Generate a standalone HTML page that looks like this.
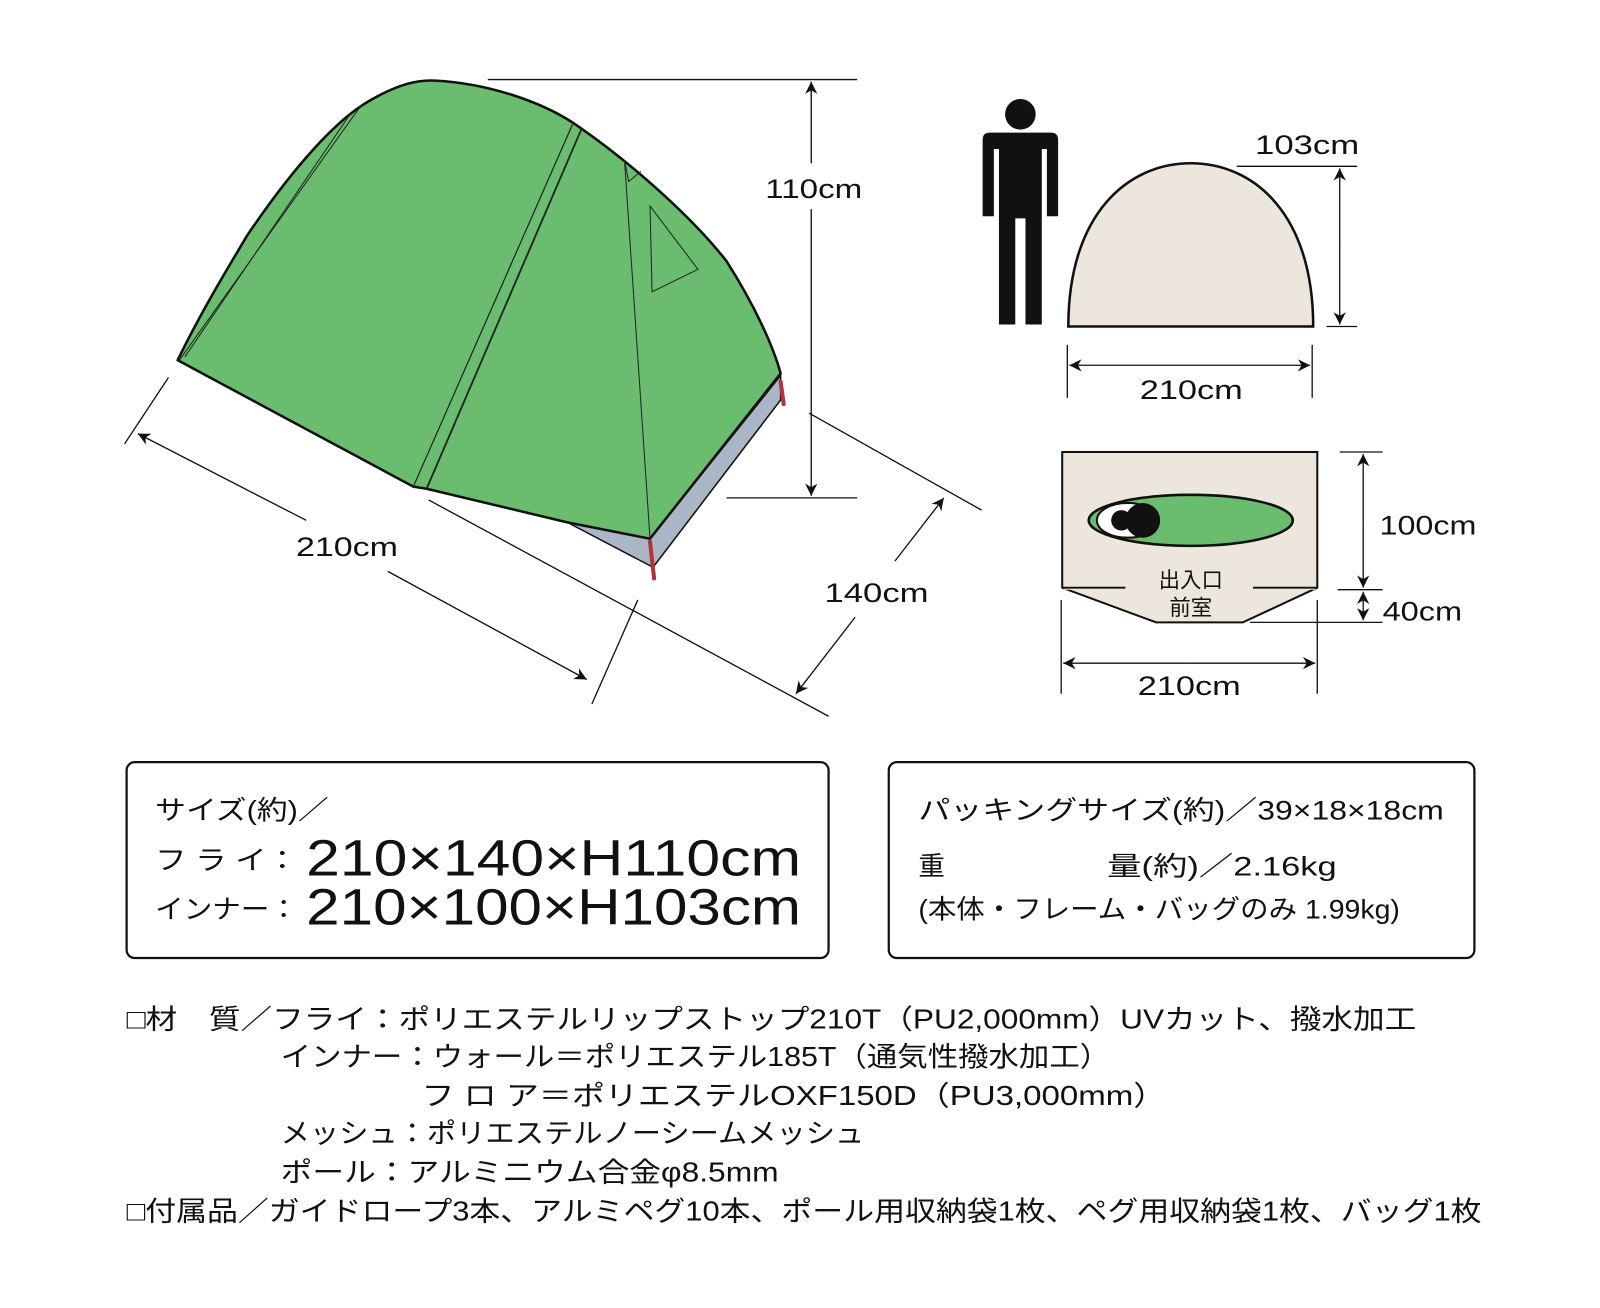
<!DOCTYPE html>
<html><head><meta charset="utf-8"><style>
html,body{margin:0;padding:0;background:#fff}
svg{display:block}
text{font-family:"Liberation Sans","Noto Sans CJK JP",sans-serif;fill:#111}
</style></head><body>
<svg width="1600" height="1308" viewBox="0 0 1568 1282" xmlns="http://www.w3.org/2000/svg">
<defs>
<marker id="ah" viewBox="0 0 10 10" refX="10" refY="5" markerWidth="12" markerHeight="12" orient="auto-start-reverse" markerUnits="userSpaceOnUse">
<path d="M0,0 L10,5 L0,10 L3,5 Z" fill="#111"/></marker>
</defs>
<!-- tent floor -->
<polygon points="556,512 640,556 765,392 765,368 637,528" fill="#aab6c6" stroke="#111" stroke-width="1.5"/>
<!-- tent body -->
<path d="M174,353 C200,300 225,260 242,231 C290,160 330,118 360,100 C390,82 410,78 427,79 C480,82 530,100 561,120 C620,160 680,215 712,256 C740,300 758,340 765,366 L637,528 L556,512 L418,479 L405,477 Z" fill="#6abd6e" stroke="#111" stroke-width="2.5" stroke-linejoin="round"/>
<line x1="354" y1="103" x2="175" y2="354" stroke="#222" stroke-width="1"/>
<line x1="343" y1="112" x2="181" y2="350" stroke="#222" stroke-width="1"/>
<line x1="561" y1="122" x2="405" y2="477" stroke="#222" stroke-width="1.2"/>
<line x1="570" y1="126" x2="418" y2="479" stroke="#222" stroke-width="1.8"/>
<line x1="612" y1="157" x2="637" y2="528" stroke="#222" stroke-width="1"/>
<polygon points="637,202 684,264 639,286" fill="none" stroke="#222" stroke-width="1"/>
<polyline points="612,157 616,178 628,168" fill="none" stroke="#222" stroke-width="1"/>
<line x1="637" y1="531" x2="641" y2="567" stroke="#b0333f" stroke-width="4" stroke-linecap="round"/>
<line x1="765" y1="374" x2="768" y2="396" stroke="#b0333f" stroke-width="4" stroke-linecap="round"/>
<!-- 110 dim -->
<g stroke="#111" stroke-width="1.3" fill="none">
<line x1="478" y1="78" x2="840" y2="78"/>
<line x1="712" y1="488" x2="840" y2="488"/>
<line x1="795" y1="160" x2="795" y2="80" marker-end="url(#ah)"/>
<line x1="795" y1="205" x2="795" y2="486" marker-end="url(#ah)"/>
<!-- 210 dim -->
<line x1="165" y1="370" x2="122" y2="435"/>
<line x1="625" y1="588" x2="580" y2="690"/>
<line x1="300" y1="510" x2="135" y2="425" marker-end="url(#ah)"/>
<line x1="380" y1="560" x2="575" y2="666" marker-end="url(#ah)"/>
<!-- 140 dim -->
<line x1="793" y1="405" x2="962" y2="500"/>
<line x1="420" y1="490" x2="812" y2="702"/>
<line x1="877" y1="550" x2="925" y2="488" marker-end="url(#ah)"/>
<line x1="838" y1="605" x2="780" y2="680" marker-end="url(#ah)"/>
</g>
<text x="750" y="194" font-size="26" textLength="95" lengthAdjust="spacingAndGlyphs">110cm</text>
<text x="290" y="545" font-size="26" textLength="100" lengthAdjust="spacingAndGlyphs">210cm</text>
<text x="808" y="590" font-size="26" textLength="102" lengthAdjust="spacingAndGlyphs">140cm</text>
<!-- person -->
<g fill="#111">
<circle cx="1000" cy="112" r="15"/>
<path d="M970,130 L1030,130 Q1037,130 1037,137 L1037,212 L1026,212 L1026,146 L1021,146 L1021,318 L1005,318 L1005,214 L995,214 L995,318 L979,318 L979,146 L974,146 L974,212 L963,212 L963,137 Q963,130 970,130 Z"/>
</g>
<!-- dome -->
<path d="M1047,320 C1047,210 1105,160 1167,160 C1229,160 1287,210 1287,320 Z" fill="#ece6dc" stroke="#111" stroke-width="2.5"/>
<g stroke="#111" stroke-width="1.3" fill="none">
<line x1="1212" y1="163" x2="1330" y2="163"/>
<line x1="1300" y1="320" x2="1330" y2="320"/>
<line x1="1313" y1="240" x2="1313" y2="165" marker-end="url(#ah)"/>
<line x1="1313" y1="240" x2="1313" y2="318" marker-end="url(#ah)"/>
<line x1="1046" y1="338" x2="1046" y2="390"/>
<line x1="1286" y1="338" x2="1286" y2="390"/>
<line x1="1166" y1="358" x2="1048" y2="358" marker-end="url(#ah)"/>
<line x1="1166" y1="358" x2="1284" y2="358" marker-end="url(#ah)"/>
</g>
<text x="1230" y="151" font-size="26" textLength="102" lengthAdjust="spacingAndGlyphs">103cm</text>
<text x="1117" y="391" font-size="26" textLength="101" lengthAdjust="spacingAndGlyphs">210cm</text>
<!-- floor plan -->
<path d="M1041,443 L1291,443 L1291,576 L1218,610 L1133,610 L1041,576 Z" fill="#ece6dc" stroke="#111" stroke-width="2"/>
<rect x="1043" y="575" width="246" height="3" fill="#ece6dc"/>
<line x1="1041" y1="576" x2="1103" y2="576" stroke="#111" stroke-width="1.8"/>
<line x1="1228" y1="576" x2="1291" y2="576" stroke="#111" stroke-width="1.8"/>
<ellipse cx="1167" cy="510" rx="100" ry="25" fill="#6abd6e" stroke="#111" stroke-width="2.5"/>
<ellipse cx="1105" cy="510" rx="30" ry="17" fill="#fff" stroke="#111" stroke-width="2"/>
<circle cx="1120" cy="510" r="17" fill="#111"/>
<circle cx="1099" cy="510" r="10" fill="#111"/>
<text x="1167" y="576" font-size="21" text-anchor="middle">出入口</text>
<text x="1167" y="603" font-size="21" text-anchor="middle">前室</text>
<g stroke="#111" stroke-width="1.3" fill="none">
<line x1="1313" y1="443" x2="1355" y2="443"/>
<line x1="1311" y1="578" x2="1355" y2="578"/>
<line x1="1225" y1="610" x2="1355" y2="610"/>
<line x1="1336" y1="510" x2="1336" y2="445" marker-end="url(#ah)"/>
<line x1="1336" y1="510" x2="1336" y2="576" marker-end="url(#ah)"/>
<line x1="1336" y1="594" x2="1336" y2="580" marker-end="url(#ah)"/>
<line x1="1336" y1="594" x2="1336" y2="608" marker-end="url(#ah)"/>
<line x1="1040" y1="588" x2="1040" y2="680"/>
<line x1="1291" y1="588" x2="1291" y2="680"/>
<line x1="1165" y1="650" x2="1042" y2="650" marker-end="url(#ah)"/>
<line x1="1165" y1="650" x2="1289" y2="650" marker-end="url(#ah)"/>
</g>
<text x="1352" y="524" font-size="26" textLength="95" lengthAdjust="spacingAndGlyphs">100cm</text>
<text x="1355" y="608" font-size="26" textLength="78" lengthAdjust="spacingAndGlyphs">40cm</text>
<text x="1115" y="681" font-size="26" textLength="101" lengthAdjust="spacingAndGlyphs">210cm</text>
<!-- boxes -->
<rect x="124" y="747" width="688" height="192" rx="8" fill="none" stroke="#111" stroke-width="2.2"/>
<rect x="871" y="747" width="574" height="192" rx="8" fill="none" stroke="#111" stroke-width="2.2"/>
<text x="152" y="803" font-size="26" textLength="170" lengthAdjust="spacingAndGlyphs">サイズ(約)／</text>
<text x="152" y="852" font-size="26" textLength="140" lengthAdjust="spacingAndGlyphs">フ ラ イ：</text>
<text x="300" y="858" font-size="50" textLength="485" lengthAdjust="spacingAndGlyphs">210×140×H110cm</text>
<text x="152" y="900" font-size="26" textLength="140" lengthAdjust="spacingAndGlyphs">インナー：</text>
<text x="300" y="906" font-size="50" textLength="485" lengthAdjust="spacingAndGlyphs">210×100×H103cm</text>
<text x="900" y="803" font-size="26" textLength="515" lengthAdjust="spacingAndGlyphs">パッキングサイズ(約)／39×18×18cm</text>
<text x="900" y="858" font-size="26">重</text>
<text x="1085" y="858" font-size="26" textLength="225" lengthAdjust="spacingAndGlyphs">量(約)／2.16kg</text>
<text x="900" y="900" font-size="26" textLength="472" lengthAdjust="spacingAndGlyphs">(本体・フレーム・バッグのみ 1.99kg)</text>
<!-- specs -->
<g font-size="27">
<text x="124" y="1008" textLength="1264" lengthAdjust="spacingAndGlyphs">□材　質／フライ：ポリエステルリップストップ210T（PU2,000mm）UVカット、撥水加工</text>
<text x="275" y="1045" textLength="813" lengthAdjust="spacingAndGlyphs">インナー：ウォール＝ポリエステル185T（通気性撥水加工）</text>
<text x="413" y="1083" textLength="730" lengthAdjust="spacingAndGlyphs">フ ロ ア＝ポリエステルOXF150D（PU3,000mm）</text>
<text x="275" y="1120" textLength="572" lengthAdjust="spacingAndGlyphs">メッシュ：ポリエステルノーシームメッシュ</text>
<text x="275" y="1158" textLength="488" lengthAdjust="spacingAndGlyphs">ポール：アルミニウム合金φ8.5mm</text>
<text x="124" y="1196" textLength="1328" lengthAdjust="spacingAndGlyphs">□付属品／ガイドロープ3本、アルミペグ10本、ポール用収納袋1枚、ペグ用収納袋1枚、バッグ1枚</text>
</g>
</svg>
</body></html>
